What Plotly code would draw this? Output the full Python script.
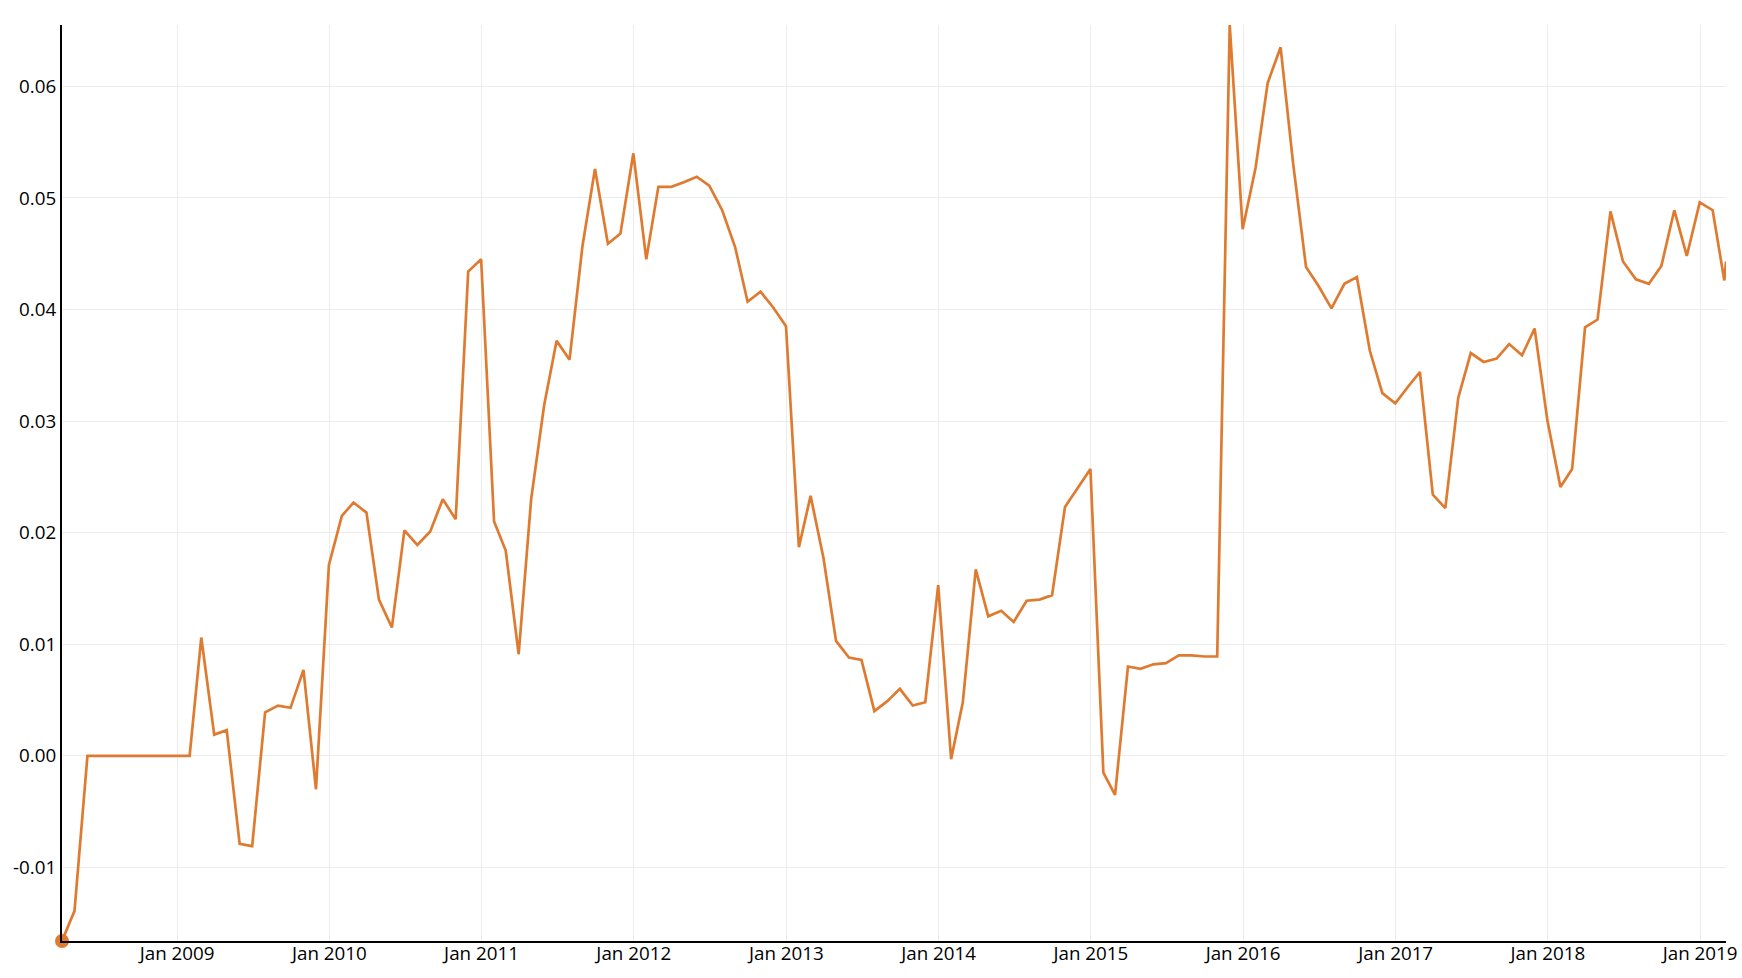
import pandas as pd
import plotly.graph_objects as go

# Monthly observation dates (month-end), plus the final partial observation
month_ends = pd.date_range("2008-03-31", periods=132, freq="ME").strftime("%Y-%m-%d").tolist()
last_date = ["2019-03-04"]
dates = month_ends + last_date

values = [
    -0.0166, -0.0139, 0.0000, 0.0000, 0.0000, 0.0000, 0.0000, 0.0000, 0.0000, 0.0000,  # Mar08-Dec08
    0.0000, 0.0106, 0.0019, 0.0023, -0.0079, -0.0081, 0.0039, 0.0045, 0.0043, 0.0077, -0.0030, 0.0171,  # 2009
    0.0215, 0.0227, 0.0218, 0.0140, 0.0115, 0.0202, 0.0189, 0.0201, 0.0230, 0.0212, 0.0434, 0.0445,  # 2010
    0.0210, 0.0184, 0.0091, 0.0230, 0.0314, 0.0372, 0.0355, 0.0457, 0.0526, 0.0459, 0.0468, 0.0540,  # 2011
    0.0445, 0.0510, 0.0510, 0.0514, 0.0519, 0.0511, 0.0489, 0.0456, 0.0407, 0.0416, 0.0402, 0.0385,  # 2012
    0.0187, 0.0233, 0.0177, 0.0103, 0.0088, 0.0086, 0.0040, 0.0049, 0.0060, 0.0045, 0.0048, 0.0153,  # 2013
    -0.0003, 0.0048, 0.0167, 0.0125, 0.0130, 0.0120, 0.0139, 0.0140, 0.0144, 0.0223, 0.0240, 0.0257,  # 2014
    -0.0015, -0.0035, 0.0080, 0.0078, 0.0082, 0.0083, 0.0090, 0.0090, 0.0089, 0.0089, 0.0655, 0.0472,  # 2015
    0.0527, 0.0603, 0.0635, 0.0531, 0.0438, 0.0421, 0.0401, 0.0423, 0.0429, 0.0363, 0.0325, 0.0316,  # 2016
    0.0331, 0.0344, 0.0234, 0.0222, 0.0321, 0.0361, 0.0353, 0.0356, 0.0369, 0.0359, 0.0383, 0.0300,  # 2017
    0.0241, 0.0257, 0.0384, 0.0391, 0.0488, 0.0443, 0.0427, 0.0423, 0.0439, 0.0489, 0.0448, 0.0496,  # 2018
    0.0489, 0.0426,  # Jan19-Feb19
    0.0443,  # Mar 2019 (partial)
]

y_tickvals = [-0.01, 0.00, 0.01, 0.02, 0.03, 0.04, 0.05, 0.06]
y_ticktext = ["-0.01", "0.00", "0.01", "0.02", "0.03", "0.04", "0.05", "0.06"]
x_tickvals = ["2009-01-01", "2010-01-01", "2011-01-01", "2012-01-01", "2013-01-01", "2014-01-01",
              "2015-01-01", "2016-01-01", "2017-01-01", "2018-01-01", "2019-01-01"]
x_ticktext = ["Jan 2009", "Jan 2010", "Jan 2011", "Jan 2012", "Jan 2013", "Jan 2014",
              "Jan 2015", "Jan 2016", "Jan 2017", "Jan 2018", "Jan 2019"]

LINE_COLOR = "#df7b30"

fig = go.Figure()
fig.add_trace(go.Scatter(
    x=dates, y=values, mode="lines",
    line=dict(color=LINE_COLOR, width=2.7),
    hoverinfo="x+y", showlegend=False,
))
fig.add_trace(go.Scatter(
    x=dates[:1], y=values[:1], mode="markers",
    marker=dict(color=LINE_COLOR, size=14),
    cliponaxis=False, showlegend=False, hoverinfo="skip",
))

tick_font = dict(family="Open Sans, sans-serif", size=18.8, color="#000000")

fig.update_layout(
    width=1742, height=978,
    margin=dict(l=62, r=16, t=25, b=37, autoexpand=False),
    paper_bgcolor="white", plot_bgcolor="white",
    showlegend=False,
    xaxis=dict(
        type="date",
        range=[dates[0], dates[-1]],
        tickvals=x_tickvals, ticktext=x_ticktext,
        showgrid=True, gridcolor="#ececec", gridwidth=1,
        showline=True, linecolor="black", linewidth=2,
        ticks="", tickfont=tick_font, zeroline=False,
        automargin=False, ticklabelstandoff=-6,
    ),
    yaxis=dict(
        range=[min(values), max(values)],
        tickvals=y_tickvals, ticktext=y_ticktext,
        showgrid=True, gridcolor="#ececec", gridwidth=1,
        showline=True, linecolor="black", linewidth=2,
        ticks="", tickfont=tick_font, zeroline=False,
        automargin=False,
    ),
)

fig.write_html(
    "out.html",
    config={"displayModeBar": False},
    post_script="document.body.style.margin='0';document.body.style.overflow='hidden';",
)
